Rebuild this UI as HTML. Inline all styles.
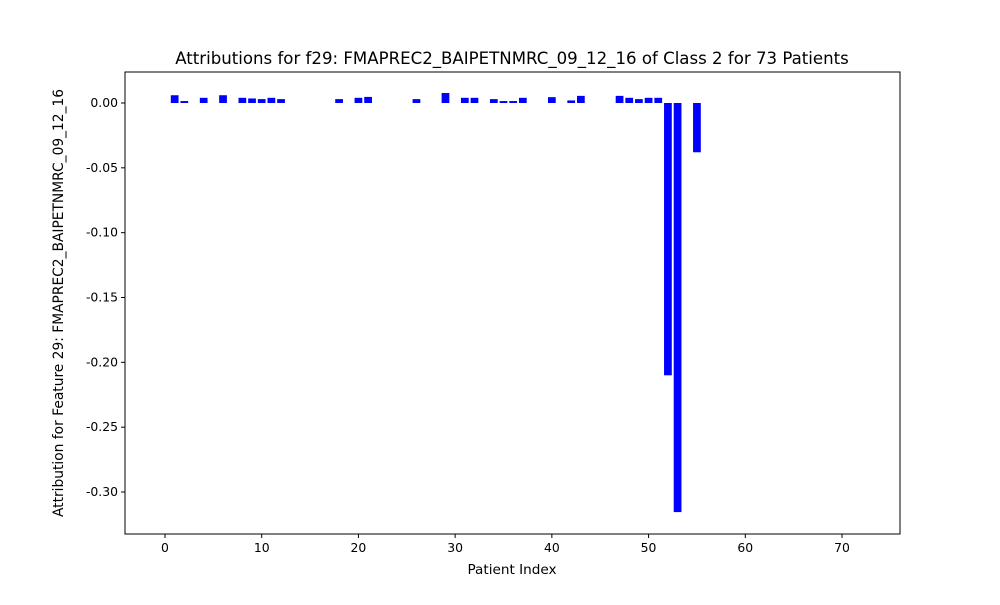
<!DOCTYPE html>
<html><head><meta charset="utf-8"><style>
body{margin:0;background:#fff;font-family:"Liberation Sans","DejaVu Sans",sans-serif;}
svg text{font-family:"DejaVu Sans","Liberation Sans",sans-serif;}
</style></head><body>
<svg id="chart" width="1000" height="600" xmlns="http://www.w3.org/2000/svg"></svg>
<script>
const indices=[1,2,4,6,8,9,10,11,12,18,20,21,26,29,31,32,34,35,36,37,40,42,43,47,48,49,50,51,52,53,55];
const values=[0.006,0.0015,0.004,0.006,0.004,0.0035,0.003,0.004,0.003,0.003,0.004,0.0047,0.003,0.0077,0.004,0.004,0.003,0.0015,0.0015,0.004,0.0045,0.002,0.0055,0.0055,0.004,0.003,0.004,0.004,-0.21,-0.3155,-0.038];
const xTicks=[0,10,20,30,40,50,60,70];
const yTicks=[0,-0.05,-0.10,-0.15,-0.20,-0.25,-0.30];
const L=125,R=900,T=72,B=534;
const xs=v=>165+(v-0)*(842-165)/70;
const ys=v=>103+(0-v)*(492-103)/0.30;
const svg=document.getElementById('chart');
const NS='http://www.w3.org/2000/svg';
function mk(t,a,p){const e=document.createElementNS(NS,t);for(const k in a)e.setAttribute(k,a[k]);(p||svg).appendChild(e);return e;}
indices.forEach((ix,i)=>{const v=values[i];const y0=ys(0),y1=ys(v);
const r=mk('rect',{x:xs(ix-0.4),y:Math.min(y0,y1),width:xs(ix+0.4)-xs(ix-0.4),height:Math.abs(y1-y0),fill:'#0000ff'});

});
const fr=mk('rect',{x:L,y:T,width:R-L,height:B-T,fill:'none',stroke:'#000','stroke-width':1});

xTicks.forEach(t=>{const x=xs(t);mk('line',{x1:x,x2:x,y1:B,y2:B+4,stroke:'#000'});
const tx=mk('text',{x:x,y:B+18,'text-anchor':'middle','font-size':12.4});tx.textContent=t;
});
yTicks.forEach(t=>{const y=ys(t);mk('line',{x1:L-4,x2:L,y1:y,y2:y,stroke:'#000'});
const tx=mk('text',{x:L-7,y:y+4,'text-anchor':'end','font-size':12.4});tx.textContent=t.toFixed(2);
});
const ti=mk('text',{x:512,y:64,'text-anchor':'middle','font-size':16.6});ti.textContent='Attributions for f29: FMAPREC2_BAIPETNMRC_09_12_16 of Class 2 for 73 Patients';

const xl=mk('text',{x:512,y:574,'text-anchor':'middle','font-size':13.6});xl.textContent='Patient Index';

const yl=mk('text',{x:0,y:0,'text-anchor':'middle','font-size':13.8,transform:'translate(63,303) rotate(-90)'});yl.textContent='Attribution for Feature 29: FMAPREC2_BAIPETNMRC_09_12_16';

</script>
</body></html>
